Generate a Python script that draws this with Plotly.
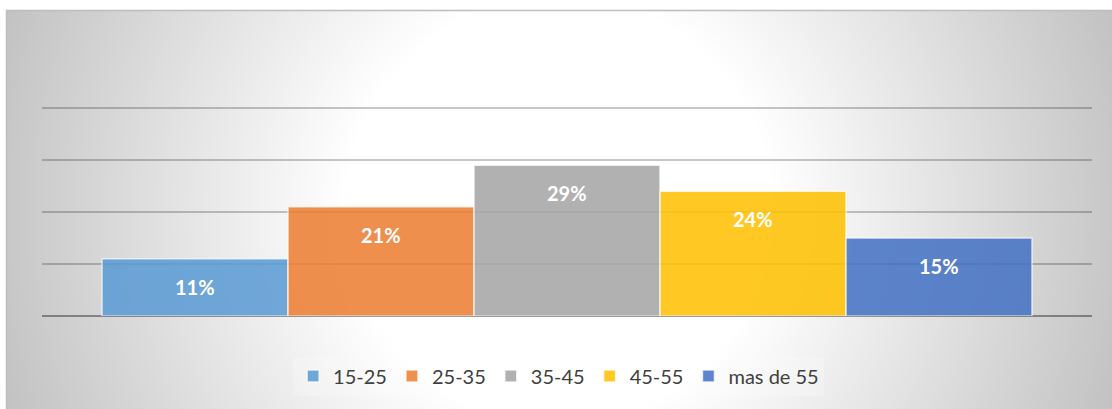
import base64
import plotly.graph_objects as go

# Age-group distribution
categories = ["15-25", "25-35", "35-45", "45-55", "mas de 55"]
shares = [0.11, 0.21, 0.29, 0.24, 0.15]
colors = ["#5B9BD5", "#ED7D31", "#A5A5A5", "#FFC000", "#4472C4"]

W, H = 1112, 409
ML, MR, MT, MB = 42, 20, 104, 93
plot_w = W - ML - MR
plot_h = H - MT - MB

# chart-area frame (pixels in page)
FX0, FY0, FX1, FY1 = 6, 10, 1112, 409

# radial grey-to-white fill for the chart area
fw, fh = FX1 - FX0, FY1 - FY0
svg = f"""<svg xmlns="http://www.w3.org/2000/svg" width="{fw}" height="{fh}" viewBox="0 0 {fw} {fh}">
<defs><radialGradient id="g" gradientUnits="userSpaceOnUse" cx="{fw/2}" cy="{fh/2}" r="{((fw/2)**2 + (fh/2)**2) ** 0.5}">
<stop offset="0" stop-color="#ffffff"/><stop offset="0.36" stop-color="#ffffff"/>
<stop offset="1" stop-color="#c2c2c2"/></radialGradient></defs>
<rect width="{fw}" height="{fh}" fill="url(#g)"/></svg>"""
bg_src = "data:image/svg+xml;base64," + base64.b64encode(svg.encode()).decode()


def px_to_paper_x(px):
    return (px - ML) / plot_w


def px_to_paper_y(py):
    return (H - MB - py) / plot_h


n = len(categories)
pad = 60 / 186  # side gap in bar widths
y_top = 0.4 * plot_h / (plot_h - 4)  # keep the 40 % gridline inside the plot area

fig = go.Figure()
for i, (cat, val, col) in enumerate(zip(categories, shares, colors)):
    fig.add_trace(go.Bar(
        x=[i], y=[val], width=1, name=cat,
        marker=dict(color=col, line=dict(color="rgba(255,255,255,0.75)", width=1.5)),
        opacity=0.86, hoverinfo="skip",
    ))
    fig.add_annotation(
        x=i, y=val, yshift=-28, text=f"{val*100:.0f}%", showarrow=False,
        font=dict(family="Lato", size=20, color="white", weight="bold"),
    )

fig.update_layout(
    width=W, height=H,
    margin=dict(l=ML, r=MR, t=MT, b=MB),
    paper_bgcolor="white",
    plot_bgcolor="rgba(0,0,0,0)",
    barmode="overlay",
    showlegend=True,
    legend=dict(
        orientation="h", x=0.492, xanchor="center", y=px_to_paper_y(376), yanchor="middle",
        font=dict(family="Lato", size=20, color="#404040"),
        bgcolor="rgba(255,255,255,0.2)",
        itemwidth=30, traceorder="normal", tracegroupgap=0,
        itemclick=False, itemdoubleclick=False,
    ),
    xaxis=dict(range=[-0.5 - pad, n - 0.5 + pad], visible=False, fixedrange=True),
    yaxis=dict(
        range=[0, y_top], tickvals=[0, 0.1, 0.2, 0.3, 0.4], showticklabels=False,
        showgrid=True, gridcolor="rgba(0,0,0,0.22)", gridwidth=1.5,
        zeroline=True, zerolinecolor="rgba(0,0,0,0.38)", zerolinewidth=2,
        showline=False, fixedrange=True,
    ),
    images=[dict(
        source=bg_src, xref="paper", yref="paper",
        x=px_to_paper_x(FX0), y=px_to_paper_y(FY0),
        sizex=fw / plot_w, sizey=fh / plot_h,
        sizing="stretch", xanchor="left", yanchor="top", layer="below",
    )],
    shapes=[dict(
        type="rect", xref="paper", yref="paper",
        x0=px_to_paper_x(FX0 + 0.5), x1=px_to_paper_x(FX1 + 2),
        y0=px_to_paper_y(FY1 + 2), y1=px_to_paper_y(FY0 + 0.5),
        line=dict(color="#bdbdbd", width=1.5), layer="below",
    )],
)

fig.write_html("out.html", config={"displayModeBar": False})
